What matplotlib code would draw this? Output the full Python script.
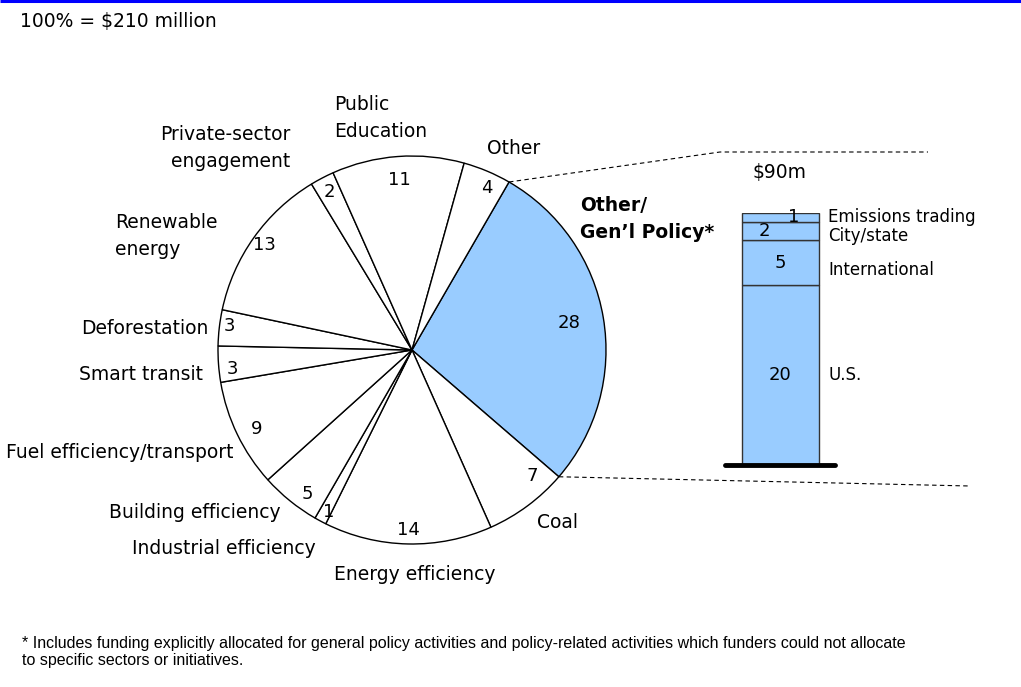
import numpy as np
import matplotlib
matplotlib.use("Agg")
import matplotlib.pyplot as plt

W, H = 1021, 687

# pie slices, clockwise from the highlighted one
sectors = ["Other/\nGen\u2019l Policy*", "Coal", "Energy efficiency", "Industrial efficiency",
           "Building efficiency", "Fuel efficiency/transport", "Smart transit", "Deforestation",
           "Renewable\nenergy", "Private-sector\nengagement", "Public\nEducation", "Other"]
shares = [28, 7, 14, 1, 5, 9, 3, 3, 13, 2, 11, 4]

# breakdown of the policy slice (bottom to top)
policy_parts = ["U.S.", "International", "City/state", "Emissions trading"]
policy_values = [20, 5, 2, 1]
policy_total_label = "$90m"

BLUE = "#99CCFF"
FONT = "DejaVu Sans"
FS = 13.5

plt.rcParams["font.family"] = [FONT]

fig = plt.figure(figsize=(W / 100, H / 100), dpi=100)
ax = fig.add_axes([0, 0, 1, 1])

cx, cy, R = 412, H - 350, 194
start = 60
colors = [BLUE] + ["white"] * (len(shares) - 1)
wedges, _ = ax.pie(shares, startangle=start, counterclock=False, center=(cx, cy), radius=R,
                   colors=colors, wedgeprops=dict(edgecolor="black", linewidth=1))
ax.set_xlim(0, W)
ax.set_ylim(0, H)
ax.set_aspect("auto")
ax.axis("off")

# numbers inside the slices
num_r = [0.82, 0.9, 0.93, 0.94, 0.92, 0.9, 0.93, 0.95, 0.93, 0.92, 0.88, 0.92]
num_shift = [0, 7, 0, 1, 3, 1, 2, -1, 0, 0, 0, -2]
for w, v, rf, sh in zip(wedges, shares, num_r, num_shift):
    mid = np.deg2rad((w.theta1 + w.theta2) / 2 + sh)
    ax.text(cx + rf * R * np.cos(mid), cy + rf * R * np.sin(mid), str(v),
            ha="center", va="center", fontsize=FS - 0.5)

# category labels around the pie
label_pos = {
    "Other/\nGen\u2019l Policy*": (580, 219, "left"),
    "Coal": (537, 522, "left"),
    "Energy efficiency": (415, 574, "center"),
    "Industrial efficiency": (316, 548, "right"),
    "Building efficiency": (281, 512, "right"),
    "Fuel efficiency/transport": (233, 453, "right"),
    "Smart transit": (203, 375, "right"),
    "Deforestation": (208, 329, "right"),
    "Renewable\nenergy": (115, 236, "left"),
    "Private-sector\nengagement": (290, 148, "right"),
    "Public\nEducation": (334, 118, "left"),
    "Other": (487, 148, "left"),
}
for name in sectors:
    x, y, ha = label_pos[name]
    bold = name.startswith("Other/")
    ax.text(x, H - y, name, ha=ha, va="center", fontsize=FS,
            fontweight="bold" if bold else "normal", linespacing=1.5)

# connector lines from the policy slice to the bar
t1 = np.deg2rad(wedges[0].theta2)
t0 = np.deg2rad(wedges[0].theta1)
ax.plot([cx + R * np.cos(t1), 720, 928], [cy + R * np.sin(t1), H - 152, H - 152],
        color="black", lw=0.8, ls=(0, (4, 3)))
ax.plot([cx + R * np.cos(t0), 970], [cy + R * np.sin(t0), H - 486],
        color="black", lw=0.8, ls=(0, (4, 3)))

ax.text(20, H - 22, "100% = $210 million", ha="left", va="center", fontsize=FS)
ax.plot([0, W], [H - 1, H - 1], color="#0000FF", lw=2.2, solid_capstyle="butt")

ax.text(22, H - 652, "* Includes funding explicitly allocated for general policy activities and "
        "policy-related activities which funders could not allocate\nto specific sectors or initiatives.",
        ha="left", va="center", fontsize=11.5, family="Liberation Sans", linespacing=1.2)

# stacked bar for the policy breakdown
bx0, bx1, by0, by1 = 725, 835, 465, 213
bax = fig.add_axes([bx0 / W, (H - by0) / H, (bx1 - bx0) / W, (by0 - by1) / H])
bax.set_xlim(0, 1)
bax.set_ylim(0, sum(policy_values))
bax.axis("off")
bottom = 0
val_x = [0.5, 0.5, 0.36, 0.62]
lab_dy = [0, -0.8, -0.6, 0]
for part, v, vx, dy in zip(policy_parts, policy_values, val_x, lab_dy):
    bax.bar(0.5, v, bottom=bottom, width=0.7, color=BLUE, edgecolor="#333333", linewidth=1)
    bax.text(vx, bottom + v / 2, str(v), ha="center", va="center", fontsize=FS - 0.5)
    bax.text(0.94, bottom + v / 2 + dy, part, ha="left", va="center", fontsize=12,
             clip_on=False)
    bottom += v
bax.plot([0, 1], [0, 0], color="black", lw=3.5, clip_on=False, solid_capstyle="round")
bax.text(0.5, bottom + 4.5, policy_total_label, ha="center", va="center", fontsize=FS,
         clip_on=False)

fig.savefig("out.png", dpi=100)
